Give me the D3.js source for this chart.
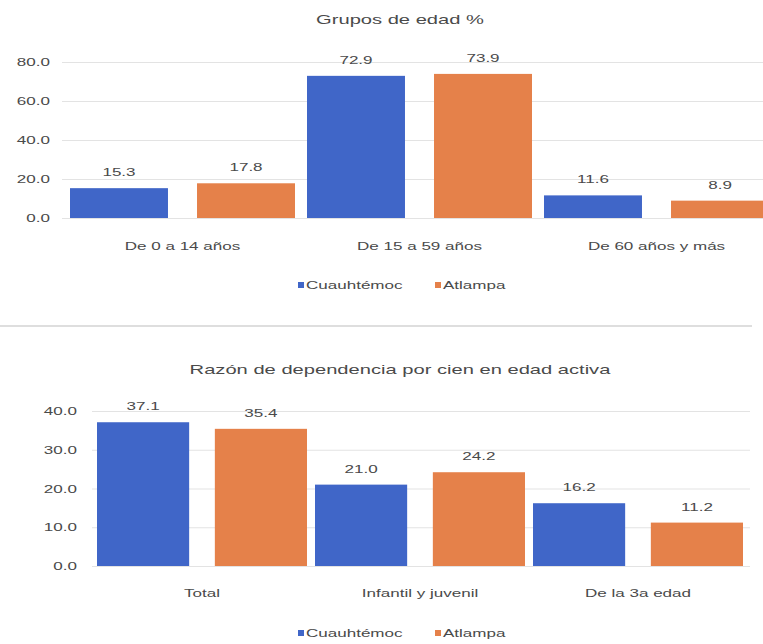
<!DOCTYPE html>
<html>
<head>
    <meta charset="utf-8">
    <style>
        body { margin: 0; background: white; }
        svg { display: block; }
        text { font-family: Arial, "Liberation Sans", sans-serif; fill: #4a4a4a; }
    </style>
    <script src="https://d3js.org/d3.v7.min.js"></script>
</head>
<body>
<script>
// data
const series = ["Cuauhtémoc", "Atlampa"];
const colors = ["#4066C8", "#E5814A"];

const ageGroups = ["De 0 a 14 años", "De 15 a 59 años", "De 60 años y más"];
const ageCuauhtemoc = [15.3, 72.9, 11.6];
const ageAtlampa = [17.8, 73.9, 8.9];
const ageTicks = [0, 20, 40, 60, 80];

const depGroups = ["Total", "Infantil y juvenil", "De la 3a edad"];
const depCuauhtemoc = [37.1, 21.0, 16.2];
const depAtlampa = [35.4, 24.2, 11.2];
const depTicks = [0, 10, 20, 30, 40];

const W = 763, H = 644;
const SX = 1.55; // the scan is stretched sideways, text too

const svg = d3.select("body").append("svg")
    .attr("width", W)
    .attr("height", H);

function label(g, x, y, txt, size, anchor) {
    return g.append("text")
        .attr("transform", `translate(${x},${y}) scale(${SX},1)`)
        .attr("text-anchor", anchor || "middle")
        .style("font-size", size + "px")
        .text(txt);
}

function chart(cfg) {
    const g = svg.append("g");
    const rows = cfg.groups.map((c, i) => ({ cat: c, vals: [cfg.a[i], cfg.b[i]] }));

    const y = d3.scaleLinear().domain(cfg.domain).range([cfg.base, cfg.top]);
    const x0 = d3.scaleBand().domain(cfg.groups).range(cfg.xr);
    const x1 = d3.scaleBand().domain(series)
        .range([cfg.outer, x0.bandwidth() - cfg.outer])
        .paddingInner(cfg.inner);

    // gridlines + tick labels
    const ax = g.append("g")
        .attr("transform", `translate(${cfg.gridX},0)`)
        .call(d3.axisLeft(y)
            .tickValues(cfg.ticks)
            .tickFormat(d3.format(".1f"))
            .tickSize(-(cfg.gridEnd - cfg.gridX))
            .tickPadding(cfg.pad));
    ax.select(".domain").remove();
    ax.selectAll(".tick line").attr("stroke", "#e3e3e3");
    ax.selectAll(".tick text")
        .attr("x", -cfg.pad / SX)
        .attr("transform", `scale(${SX},1)`)
        .style("font-size", "11px")
        .style("font-family", "Arial, 'Liberation Sans', sans-serif")
        .attr("fill", "#4a4a4a");

    const grp = g.selectAll("g.grp")
        .data(rows)
        .join("g")
        .attr("class", "grp")
        .attr("transform", d => `translate(${x0(d.cat)},0)`);

    grp.selectAll("rect")
        .data(d => d.vals.map((v, i) => ({ s: series[i], v, i })))
        .join("rect")
        .attr("x", d => x1(d.s))
        .attr("y", d => y(d.v))
        .attr("width", x1.bandwidth())
        .attr("height", d => y(0) - y(d.v))
        .attr("fill", d => colors[d.i]);

    grp.each(function(d) {
        const gg = d3.select(this);
        d.vals.forEach((v, i) => {
            label(gg, x1(series[i]) + x1.bandwidth() / 2, y(v) - 12, v.toFixed(1), 11);
        });
    });

    // title
    label(g, 400, cfg.titleY, cfg.title, 13);

    // category labels
    cfg.groups.forEach(c => label(g, x0(c) + x0.bandwidth() / 2, cfg.catY, c, 11));

    // legend
    const lx = [298, 435];
    series.forEach((s, i) => {
        g.append("rect")
            .attr("x", lx[i]).attr("y", cfg.legY - 7)
            .attr("width", 6).attr("height", 6)
            .attr("fill", colors[i]);
        label(g, lx[i] + 8, cfg.legY, s, 11, "start");
    });
}

chart({
    title: "Grupos de edad %",
    titleY: 24,
    groups: ageGroups, a: ageCuauhtemoc, b: ageAtlampa,
    domain: [0, 80], ticks: ageTicks,
    base: 218, top: 62,
    xr: [64, 775], outer: 6, inner: 0.2286,
    gridX: 62, gridEnd: 763, pad: 12,
    catY: 250, legY: 289
});

// separator between the two charts
svg.append("line")
    .attr("x1", 0).attr("x2", 752)
    .attr("y1", 326).attr("y2", 326)
    .attr("stroke", "#bdbdbd")
    .attr("stroke-width", 1);

chart({
    title: "Razón de dependencia por cien en edad activa",
    titleY: 374,
    groups: depGroups, a: depCuauhtemoc, b: depAtlampa,
    domain: [0, 40], ticks: depTicks,
    base: 566, top: 411,
    xr: [93, 747], outer: 4, inner: 0.218,
    gridX: 92, gridEnd: 750, pad: 15,
    catY: 597, legY: 637
});
</script>
</body>
</html>
